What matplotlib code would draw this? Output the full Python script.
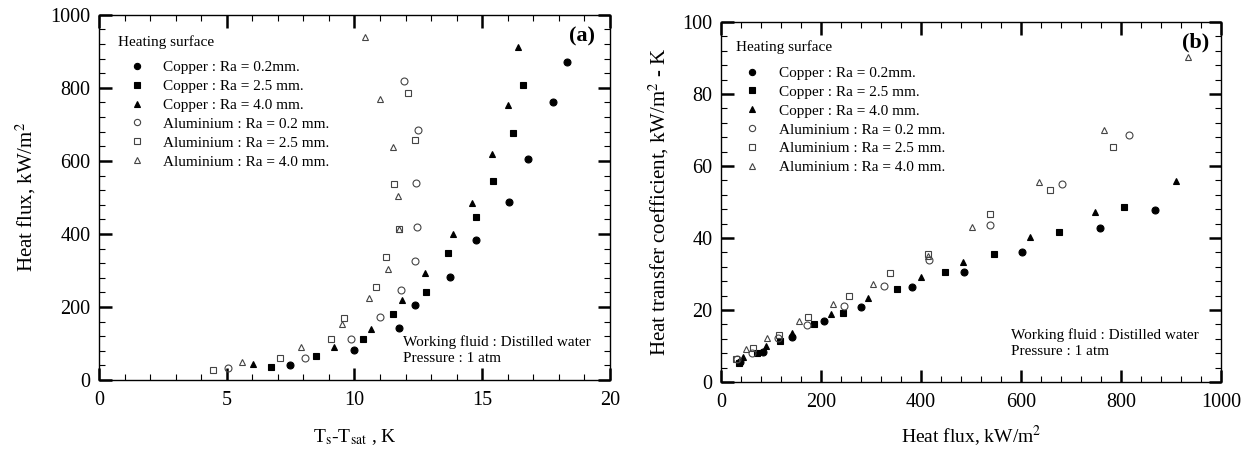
import matplotlib.pyplot as plt
from matplotlib.ticker import MultipleLocator

plt.rcParams['font.family'] = ['Liberation Serif', 'DejaVu Serif']
plt.rcParams['mathtext.fontset'] = 'stix'

labels = ['Copper : Ra = 0.2mm.', 'Copper : Ra = 2.5 mm.', 'Copper : Ra = 4.0 mm.',
          'Aluminium : Ra = 0.2 mm.', 'Aluminium : Ra = 2.5 mm.', 'Aluminium : Ra = 4.0 mm.']

# (a) superheat vs heat flux
dt_cu02 = [7.46, 10.0, 11.73, 12.37, 13.75, 14.74, 16.04, 16.78, 17.78, 18.32]
q_cu02 = [41, 82, 143, 205, 282, 384, 488, 605, 760, 872]
dt_cu25 = [6.74, 8.48, 10.33, 11.5, 12.82, 13.65, 14.75, 15.42, 16.21, 16.6]
q_cu25 = [35, 66, 112, 182, 241, 349, 447, 546, 677, 808]
dt_cu40 = [6.03, 9.2, 10.63, 11.86, 12.77, 13.87, 14.6, 15.4, 16.0, 16.42]
q_cu40 = [43, 89, 141, 218, 294, 400, 485, 619, 752, 913]
dt_al02 = [5.03, 8.05, 9.86, 11.0, 11.82, 12.37, 12.43, 12.4, 12.5, 11.95]
q_al02 = [32, 60, 112, 172, 246, 327, 418, 540, 685, 819]
dt_al25 = [4.46, 7.07, 9.1, 9.58, 10.83, 11.23, 11.76, 11.54, 12.36, 12.1]
q_al25 = [27, 60, 113, 171, 255, 337, 414, 537, 657, 787]
dt_al40 = [5.6, 7.89, 9.5, 10.56, 11.3, 11.76, 11.72, 11.5, 11.0, 10.42]
q_al40 = [48, 90, 154, 225, 304, 414, 504, 639, 769, 940]

# (b) heat flux vs heat transfer coefficient
qb_cu02 = [38, 83, 141, 205, 280, 382, 486, 601, 757, 868]
h_cu02 = [5.5, 8.3, 12.6, 17.0, 20.8, 26.3, 30.6, 36.2, 42.9, 47.7]
qb_cu25 = [35, 71, 117, 185, 243, 351, 448, 546, 675, 806]
h_cu25 = [5.2, 8.1, 11.4, 16.2, 19.1, 25.9, 30.6, 35.6, 41.8, 48.7]
qb_cu40 = [43, 90, 141, 219, 294, 399, 483, 617, 748, 909]
h_cu40 = [7.0, 10.1, 13.7, 18.8, 23.3, 29.2, 33.4, 40.4, 47.2, 55.7]
qb_al02 = [32, 62, 114, 172, 245, 325, 416, 537, 682, 815]
h_al02 = [6.4, 8.0, 12.2, 15.8, 21.1, 26.7, 33.9, 43.7, 55.0, 68.6]
qb_al25 = [29, 63, 115, 174, 256, 337, 413, 537, 657, 784]
h_al25 = [6.5, 9.4, 13.0, 18.2, 23.9, 30.4, 35.6, 46.8, 53.3, 65.2]
qb_al40 = [49, 92, 156, 224, 303, 414, 501, 636, 766, 933]
h_al40 = [9.1, 12.1, 16.9, 21.6, 27.2, 35.0, 43.1, 55.6, 70.0, 90.2]

styles = [('o', 'black'), ('s', 'black'), ('^', 'black'),
          ('o', 'none'), ('s', 'none'), ('^', 'none')]

fig = plt.figure(figsize=(12.49, 4.57), dpi=100)
ax1 = fig.add_axes([0.0793, 0.1685, 0.409, 0.799])
ax2 = fig.add_axes([0.5773, 0.164, 0.4003, 0.788])

data_a = [(dt_cu02, q_cu02), (dt_cu25, q_cu25), (dt_cu40, q_cu40),
          (dt_al02, q_al02), (dt_al25, q_al25), (dt_al40, q_al40)]
data_b = [(qb_cu02, h_cu02), (qb_cu25, h_cu25), (qb_cu40, h_cu40),
          (qb_al02, h_al02), (qb_al25, h_al25), (qb_al40, h_al40)]


def draw(ax, data, title_xy, leg_xy):
    for (x, y), (m, fc), lab in zip(data, styles, labels):
        ec = 'black' if fc == 'black' else '#444444'
        ms = 5 if m != 's' else 4.5
        ax.plot(x, y, linestyle='none', marker=m, markersize=ms, markerfacecolor=fc,
                markeredgecolor=ec, markeredgewidth=0.8, label=lab)
    ax.text(title_xy[0], title_xy[1], 'Heating surface', transform=ax.transAxes,
            ha='left', va='center', fontsize=11)
    ax.legend(loc='upper left', bbox_to_anchor=leg_xy, frameon=False,
              fontsize=11, handlelength=1.6, handletextpad=0.93,
              labelspacing=0.34, borderaxespad=0, markerscale=0.9)


def style(ax):
    ax.tick_params(which='both', direction='in', top=True, right=True, labelsize=14.5)
    ax.tick_params(axis='x', which='both', pad=8)
    ax.tick_params(axis='y', which='both', pad=6)
    ax.tick_params(which='major', length=9, width=1.8)
    ax.tick_params(which='minor', length=4, width=0.8)
    for s in ax.spines.values():
        s.set_linewidth(1.0)


draw(ax1, data_a, (0.037, 0.924), (0.0385, 0.892))
ax1.set_xlim(0, 20)
ax1.set_ylim(0, 1000)
ax1.xaxis.set_major_locator(MultipleLocator(5))
ax1.xaxis.set_minor_locator(MultipleLocator(1))
ax1.yaxis.set_major_locator(MultipleLocator(200))
ax1.yaxis.set_minor_locator(MultipleLocator(40))
style(ax1)
ax1.set_xlabel(r'T$_\mathrm{s}$-T$_\mathrm{sat}$ , K', fontsize=14, labelpad=12)
ax1.set_ylabel(r'Heat flux, kW/m$^2$', fontsize=15, labelpad=9)
ax1.text(0.971, 0.967, '(a)', transform=ax1.transAxes, ha='right', va='top',
         fontsize=16, fontweight='bold')
ax1.text(0.595, 0.082, 'Working fluid : Distilled water\nPressure : 1 atm',
         transform=ax1.transAxes, ha='left', va='center', fontsize=11, linespacing=1.3)

draw(ax2, data_b, (0.03, 0.929), (0.0254, 0.894))
ax2.set_xlim(0, 1000)
ax2.set_ylim(0, 100)
ax2.xaxis.set_major_locator(MultipleLocator(200))
ax2.xaxis.set_minor_locator(MultipleLocator(40))
ax2.yaxis.set_major_locator(MultipleLocator(20))
ax2.yaxis.set_minor_locator(MultipleLocator(4))
style(ax2)
ax2.set_xlabel(r'Heat flux, kW/m$^2$', fontsize=14, labelpad=8)
ax2.set_ylabel(r'Heat transfer coefficient, kW/m$^2$ - K', fontsize=15, labelpad=8)
ax2.text(0.976, 0.972, '(b)', transform=ax2.transAxes, ha='right', va='top',
         fontsize=16, fontweight='bold')
ax2.text(0.58, 0.108, 'Working fluid : Distilled water\nPressure : 1 atm',
         transform=ax2.transAxes, ha='left', va='center', fontsize=11, linespacing=1.3)

fig.savefig('out.png', dpi=100)
